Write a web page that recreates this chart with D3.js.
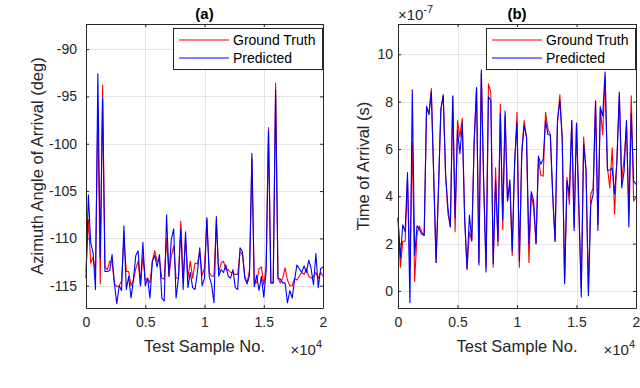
<!DOCTYPE html>
<html><head><meta charset="utf-8">
<script src="https://cdn.jsdelivr.net/npm/d3@7"></script>
<style>
html,body{margin:0;padding:0;background:#fff;}
svg{display:block;font-family:"Liberation Sans",Arial,Helvetica,sans-serif;}
</style></head>
<body><svg id="c" width="640" height="388"></svg>
<script>
// ---- data ----
const samples = [0,200,400,600,800,1000,1200,1400,1600,1800,2000,2200,2400,2600,2800,3000,3200,3400,3600,3800,4000,4200,4400,4600,4800,5000,5200,5400,5600,5800,6000,6200,6400,6600,6800,7000,7200,7400,7600,7800,8000,8200,8400,8600,8800,9000,9200,9400,9600,9800,10000,10200,10400,10600,10800,11000,11200,11400,11600,11800,12000,12200,12400,12600,12800,13000,13200,13400,13600,13800,14000,14200,14400,14600,14800,15000,15200,15400,15600,15800,16000,16200,16400,16600,16800,17000,17200,17400,17600,17800,18000,18200,18400,18600,18800,19000,19200,19400,19600,19800,20000];

const aoaTruth = [-113.5,-108,-112.6,-112,-113.5,-96.4,-114.8,-93.8,-113,-113.3,-112.4,-112.5,-114.8,-115.1,-115,-114.5,-110,-113.5,-113.5,-115,-114.4,-113.2,-112.4,-115,-111.8,-114.4,-114.2,-114.7,-112.4,-111.3,-112.4,-112.3,-114.2,-114.3,-110,-114,-111.9,-110.8,-114.2,-114.2,-108.2,-114.2,-110,-114.2,-112.4,-114.2,-112.6,-112.7,-111.4,-113.9,-113.1,-108,-113.6,-114,-114,-108.2,-113.6,-112.6,-112.4,-113.3,-113.3,-113.6,-113.6,-113.8,-113.8,-111.4,-111.7,-114,-114.7,-113.3,-101.5,-114.7,-114.7,-113.2,-113,-114.9,-113,-98.3,-114.7,-114.7,-93.6,-114.2,-114.7,-114.2,-113.1,-114.4,-115,-115,-114.2,-114.4,-114,-113.6,-113.8,-113.2,-114,-114.2,-114,-113.6,-114.2,-113.6,-114];

const aoaPred = [-114.2,-105.4,-110.5,-111.5,-115.4,-92.6,-112,-95.2,-113.5,-113.5,-113.4,-111.7,-114.8,-116.9,-115,-115.5,-108.7,-115.4,-114,-116.3,-114.4,-111.8,-111.3,-115,-110.4,-115,-114.2,-116.3,-112.4,-111.8,-113,-111.7,-116.3,-116.6,-107.5,-114,-110.1,-109,-116.3,-114.2,-109,-115.4,-109.3,-115.2,-113.6,-115.2,-115.4,-113.6,-111,-115,-114.2,-107.8,-114,-114.9,-116.8,-107.7,-114,-113.3,-113.6,-112.8,-114,-114.2,-113.3,-115.2,-115.4,-111,-111.4,-114.2,-114.8,-113.9,-101,-115.1,-113.9,-115.5,-114,-116.2,-113.5,-98.6,-114.7,-114.7,-94.3,-114.2,-114.3,-114.7,-114.7,-116.8,-115.5,-116.3,-114.4,-112.8,-113.2,-113.6,-112.9,-113.6,-112.3,-113.2,-114.9,-111.6,-115.2,-113.2,-113];

// Time of arrival, in units of 1e-7 s
const toaTruth = [3.1,1.0,2.1,2.1,4.7,0.9,6.3,0.4,2.4,2.75,2.5,2.35,7.75,7.5,8.55,4.8,1.2,4.2,7.6,8.3,4.9,3.25,2.7,8.2,2.5,7.2,6.5,7.3,3.1,0.9,2.5,2.1,6.3,8.55,1.2,9.2,4.5,1.0,8.75,8.4,1.0,5.2,1.9,7.9,2.6,7.4,3.8,4.5,1.5,5.3,7.55,1.0,5.9,7.2,6.5,1.2,4.1,3.5,2.0,5.6,4.9,4.85,7.55,6.85,6.6,4.0,2.1,7.1,8.3,6.5,0.4,4.8,3.65,7.2,2.7,7.1,3.3,0.1,6.5,5.1,0.0,4.1,4.35,8.05,2.8,7.8,6.6,9.0,5.2,4.35,6.05,3.25,5.65,8.3,4.65,5.6,7.0,3.4,8.25,3.8,3.95];

const toaPred = [3.1,1.4,2.8,2.5,5.0,-0.5,8.5,1.5,2.75,2.6,2.4,2.35,7.8,7.45,8.4,4.9,1.2,4.3,7.7,8.25,4.9,3.5,2.7,8.25,3.1,6.8,5.8,7.05,3.1,0.95,3.2,2.15,6.3,8.6,1.1,9.35,4.6,0.8,8.2,8.05,1.15,4.65,2.1,7.5,3.0,7.6,3.8,4.7,1.7,5.5,7.1,1.25,5.8,7.0,6.5,2.0,4.2,3.8,2.0,5.7,5.35,5.55,7.2,6.6,6.6,4.1,2.1,7.2,8.05,6.4,0.3,4.65,4.1,7.2,2.55,7.1,3.6,-0.25,6.2,5.1,-0.2,3.65,4.1,8.0,2.55,7.75,7.4,9.25,5.1,5.1,5.2,4.1,5.5,8.4,4.35,5.05,7.2,2.7,7.5,4.65,4.5];

const xTicks = [0, 5000, 10000, 15000, 20000];
const xTickLabels = ["0", "0.5", "1", "1.5", "2"];
const aoaTicks = [-115, -110, -105, -100, -95, -90];
const toaTicks = [0, 2, 4, 6, 8, 10];
const legendLabels = ["Ground Truth", "Predicted"];
const seriesColors = ["#ff0000", "#0000ff"];

// ---- drawing ----
const svg = d3.select("#c");
const axisColor = "#262626";
const gridColor = "#e3e3e3";

function panel(opt){
  const x = d3.scaleLinear().domain([0, 20000]).range([opt.left, opt.right]);
  const y = d3.scaleLinear().domain(opt.yDomain).range([308, 24]);
  const g = svg.append("g");
  const top = 24, bottom = 308;
  // grid
  g.selectAll(".gx").data(xTicks).join("line")
    .attr("x1", d => Math.round(x(d))+0.5).attr("x2", d => Math.round(x(d))+0.5)
    .attr("y1", top).attr("y2", bottom).attr("stroke", gridColor).attr("stroke-width", 1);
  g.selectAll(".gy").data(opt.yTicks).join("line")
    .attr("y1", d => Math.round(y(d))+0.5).attr("y2", d => Math.round(y(d))+0.5)
    .attr("x1", opt.left).attr("x2", opt.right).attr("stroke", gridColor).attr("stroke-width", 1);
  // lines
  const series = [opt.truth, opt.pred];
  series.forEach((vals, k) => {
    const line = d3.line().x((d,i) => x(samples[i])).y(d => y(d));
    g.append("path").datum(vals).attr("d", line)
      .attr("fill", "none").attr("stroke", seriesColors[k]).attr("stroke-width", 1.1)
      .attr("stroke-linejoin", "round");
  });
  // axes with inward ticks
  const axB = d3.axisBottom(x).tickValues(xTicks).tickFormat((d,i) => xTickLabels[i]).tickSizeInner(-3).tickSizeOuter(0).tickPadding(9);
  const axT = d3.axisTop(x).tickValues(xTicks).tickFormat("").tickSizeInner(-3).tickSizeOuter(0);
  const axL = d3.axisLeft(y).tickValues(opt.yTicks).tickFormat(d => String(d)).tickSizeInner(-3).tickSizeOuter(0).tickPadding(opt.yPad);
  const axR = d3.axisRight(y).tickValues(opt.yTicks).tickFormat("").tickSizeInner(-3).tickSizeOuter(0);
  const styleAx = s => {
    s.select(".domain").attr("stroke", axisColor);
    s.selectAll(".tick line").attr("stroke", axisColor);
    s.selectAll(".tick text").attr("fill", axisColor).style("font-size", "14px")
      .style("font-family", '"Liberation Sans",Arial,sans-serif');
  };
  g.append("g").attr("transform", `translate(0,${bottom})`).call(axB).call(styleAx);
  g.append("g").attr("transform", `translate(0,${top})`).call(axT).call(styleAx);
  g.append("g").attr("transform", `translate(${opt.left},0)`).call(axL).call(styleAx);
  g.append("g").attr("transform", `translate(${opt.right},0)`).call(axR).call(styleAx);
  // title
  g.append("text").attr("x", (opt.left+opt.right)/2).attr("y", 19).attr("text-anchor", "middle")
    .attr("font-weight", "bold").attr("font-size", 15).attr("fill", "#000").text(opt.title);
  // x label
  g.append("text").attr("x", (opt.left+opt.right)/2).attr("y", 352).attr("text-anchor", "middle")
    .attr("font-size", 16.5).attr("fill", axisColor).text("Test Sample No.");
  // x exponent
  const ex = g.append("text").attr("x", opt.right-1).attr("y", 355).attr("text-anchor", "end")
    .attr("font-size", 15).attr("fill", axisColor);
  ex.append("tspan").text("\u00d710");
  ex.append("tspan").attr("dy", -7).attr("font-size", 11).text("4");
  // y label
  g.append("text").attr("transform", `translate(${opt.yLabelX},166) rotate(-90)`)
    .attr("text-anchor", "middle").attr("font-size", 16.5).attr("fill", axisColor).text(opt.yLabel);
  // legend
  const lx0 = opt.right - 150, lx1 = opt.right - 1;
  g.append("rect").attr("x", lx0+0.5).attr("y", 28.5).attr("width", lx1-lx0).attr("height", 41)
    .attr("fill", "#fff").attr("stroke", axisColor).attr("stroke-width", 1);
  legendLabels.forEach((lab, k) => {
    const yy = 40 + k*18;
    g.append("line").attr("x1", lx0+6).attr("x2", lx0+56).attr("y1", yy).attr("y2", yy)
      .attr("stroke", seriesColors[k]).attr("stroke-width", 1.1);
    g.append("text").attr("x", lx0+60).attr("y", yy+5).attr("font-size", 14).attr("fill", "#000").text(lab);
  });
  return g;
}

panel({left: 86, right: 323, yDomain: [-117.35, -87.35], yTicks: aoaTicks, truth: aoaTruth, pred: aoaPred,
  title: "(a)", yLabel: "Azimuth Angle of Arrival (deg)", yLabelX: 43, yPad: 9});
const gb = panel({left: 398, right: 636, yDomain: [-0.72, 11.28], yTicks: toaTicks, truth: toaTruth, pred: toaPred,
  title: "(b)", yLabel: "Time of Arrival (s)", yLabelX: 369, yPad: 5});
const ey = gb.append("text").attr("x", 398).attr("y", 20).attr("font-size", 15).attr("fill", axisColor);
ey.append("tspan").text("\u00d710");
ey.append("tspan").attr("dy", -7).attr("font-size", 11).text("-7");
</script></body></html>
